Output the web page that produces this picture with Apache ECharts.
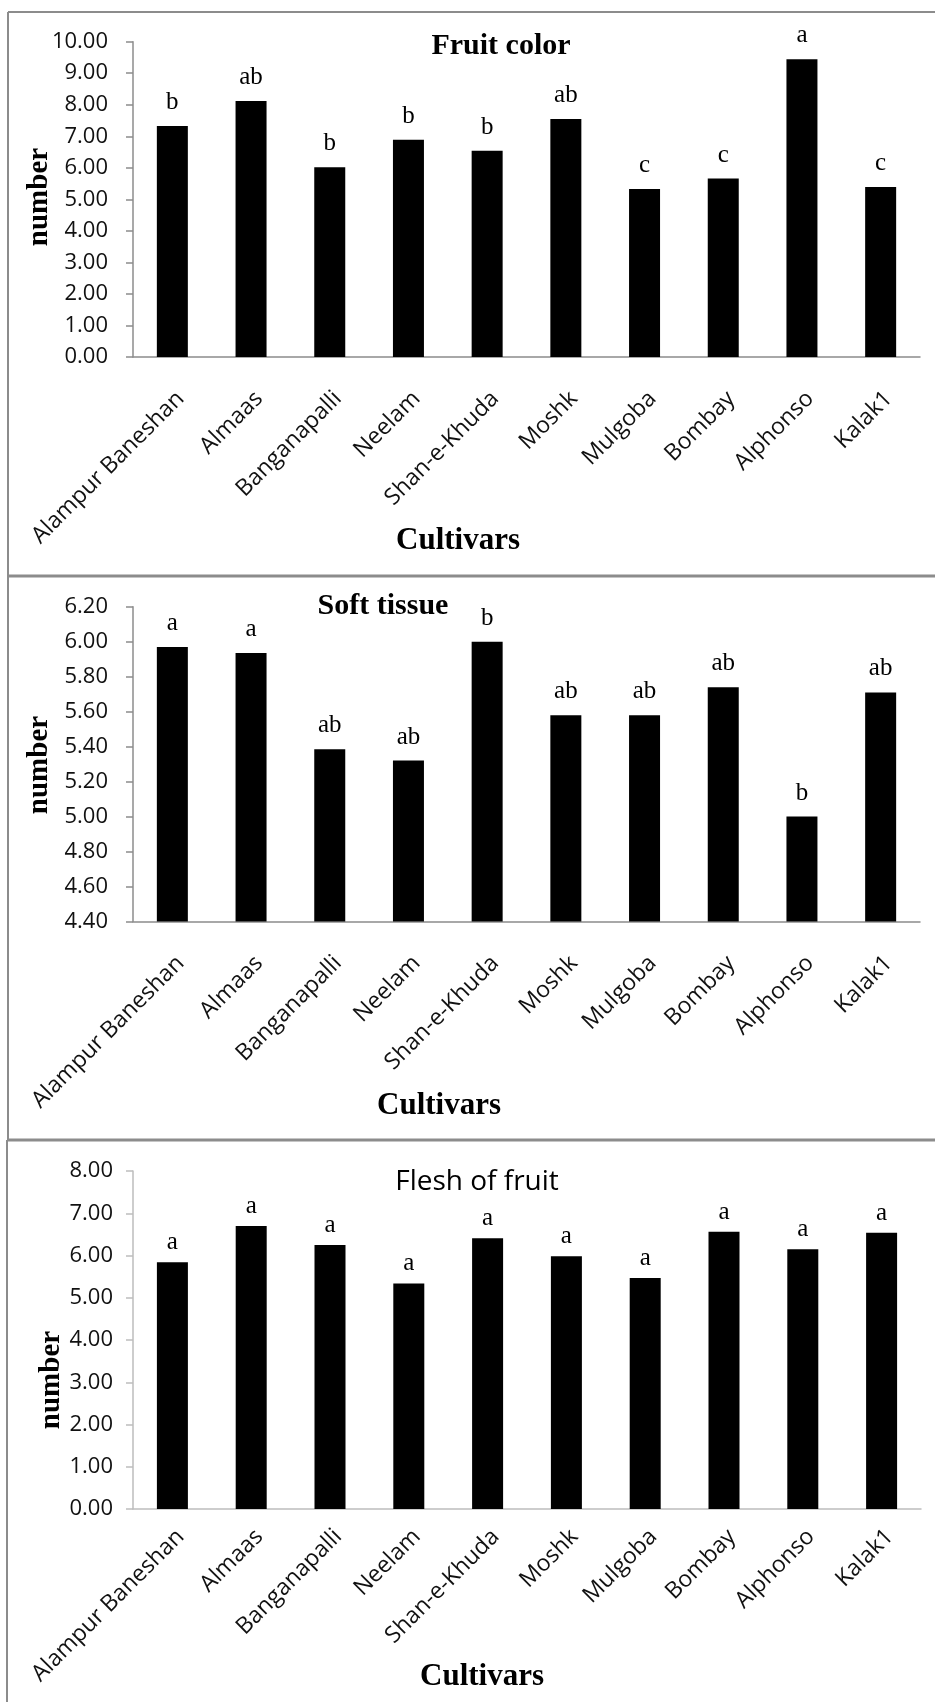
<!DOCTYPE html>
<html>
<head>
<meta charset="utf-8">
<script src="https://cdn.jsdelivr.net/npm/echarts@6/dist/echarts.min.js"></script>
<style>
html,body{margin:0;padding:0;background:#fff;}
#main{width:935px;height:1702px;}
</style>
</head>
<body>
<div id="main"></div>
<script>
const categories = ['Alampur Baneshan','Almaas','Banganapalli','Neelam','Shan-e-Khuda','Moshk','Mulgoba','Bombay','Alphonso','Kalak1'];

const fruitColorValues = [7.33, 8.12, 6.02, 6.89, 6.54, 7.55, 5.33, 5.66, 9.44, 5.39];
const fruitColorLetters = ['b','ab','b','b','b','ab','c','c','a','c'];

const softTissueValues = [5.97, 5.935, 5.385, 5.32, 6.00, 5.58, 5.58, 5.74, 5.00, 5.71];
const softTissueLetters = ['a','a','ab','ab','b','ab','ab','ab','b','ab'];

const fleshValues = [5.84, 6.70, 6.25, 5.34, 6.41, 5.98, 5.47, 6.56, 6.15, 6.54];
const fleshLetters = ['a','a','a','a','a','a','a','a','a','a'];

const chart = echarts.init(document.getElementById('main'), null, {renderer:'canvas'});

const SANS = '"Open Sans", "Noto Sans", sans-serif';
const SERIF = '"Liberation Serif", "DejaVu Serif", serif';

function xAxis(gi, margin, color){
  return {
    type:'category', gridIndex:gi, data:categories,
    axisLine:{lineStyle:{color:color, width:1.5}},
    axisTick:{length:8, lineStyle:{color:color, width:1.5}},
    axisLabel:{rotate:45, interval:0, margin:margin, verticalAlign:'top', align:'right',
      fontFamily:SANS, fontSize:23, color:'#111'}
  };
}
function yAxis(gi, min, max, interval, margin, color){
  return {
    type:'value', gridIndex:gi, min:min, max:max, interval:interval,
    splitLine:{show:false},
    axisLine:{show:true, lineStyle:{color:color, width:1.5}},
    axisTick:{show:true, length:7, lineStyle:{color:color, width:1.5}},
    axisLabel:{margin:margin, fontFamily:SANS, fontSize:22, color:'#111',
      formatter:v => v.toFixed(2)}
  };
}
function barSeries(gi, values, letters, dist){
  return {
    type:'bar', xAxisIndex:gi, yAxisIndex:gi, data:values, barWidth:31,
    itemStyle:{color:'#000'},
    label:{show:true, position:'top', distance:dist, fontFamily:SERIF, fontSize:25, color:'#000',
      formatter:p => letters[p.dataIndex]},
    silent:true, animation:false
  };
}
function txt(text, x, y, font, rot){
  return {type:'text', x:x, y:y, rotation:rot||0, silent:true,
    style:{text:text, font:font, fill:'#000', align:'center', verticalAlign:'middle',
      textAlign:'center', textVerticalAlign:'middle'}};
}
function line(x1,y1,x2,y2,w,c){
  return {type:'line', silent:true, shape:{x1:x1,y1:y1,x2:x2,y2:y2}, style:{stroke:c||'#8c8c8c', lineWidth:w||2}};
}

chart.setOption({
  animation:false,
  backgroundColor:'#fff',
  grid:[
    {left:133, top:41.7, right:15, height:315.3},
    {left:133, top:606.7, right:15, height:314.8},
    {left:133, top:1171, right:14, height:338}
  ],
  xAxis:[xAxis(0,30,'#8c8c8c'), xAxis(1,30,'#8c8c8c'), xAxis(2,16,'#bdbdbd')],
  yAxis:[yAxis(0,0,10,1,25,'#8c8c8c'), yAxis(1,4.4,6.2,0.2,25,'#8c8c8c'), yAxis(2,0,8,1,20,'#bdbdbd')],
  series:[
    barSeries(0, fruitColorValues, fruitColorLetters, 11),
    barSeries(1, softTissueValues, softTissueLetters, 11),
    barSeries(2, fleshValues, fleshLetters, 7)
  ],
  graphic:[
    line(8,12,935,12,2),
    line(8,12,8,576,2),
    line(8,576,935,576,3),
    line(8,576,8,1140,2),
    line(7,1140,935,1140,3),
    line(7,1140,7,1702,2),
    txt('Fruit color', 501, 46, 'bold 30px ' + SERIF),
    txt('Soft tissue', 383, 606, 'bold 30px ' + SERIF),
    txt('Flesh of fruit', 477, 1182, '28px ' + SANS),
    txt('Cultivars', 458, 541, 'bold 31px ' + SERIF),
    txt('Cultivars', 439, 1106, 'bold 31px ' + SERIF),
    txt('Cultivars', 482, 1677, 'bold 31px ' + SERIF),
    txt('number', 40, 197, 'bold 29px ' + SERIF, Math.PI/2),
    txt('number', 40, 765, 'bold 29px ' + SERIF, Math.PI/2),
    txt('number', 52, 1380, 'bold 29px ' + SERIF, Math.PI/2)
  ]
});
</script>
</body>
</html>
